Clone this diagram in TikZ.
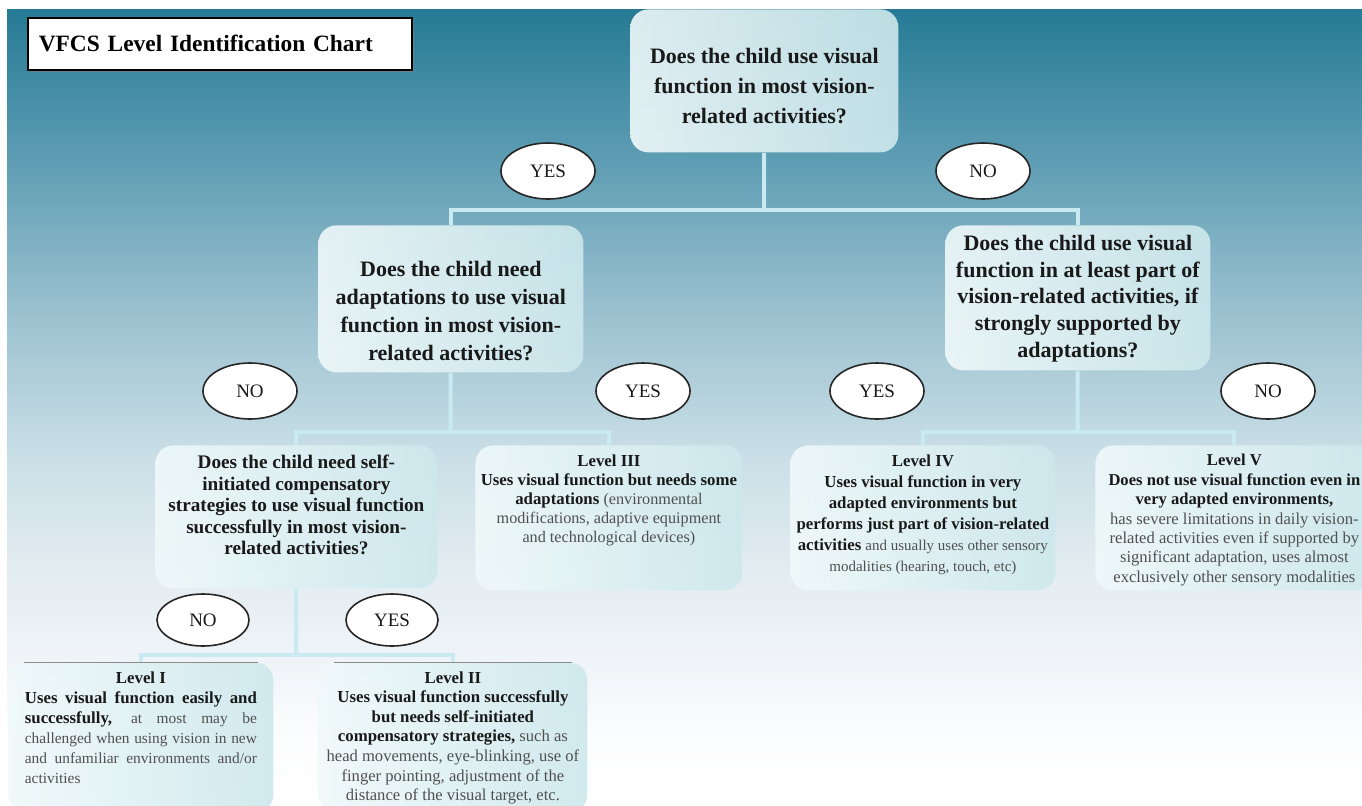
\documentclass[tikz,border=0pt]{standalone}
\usepackage{fontspec}
\setmainfont{Liberation Serif}
\usetikzlibrary{shapes.geometric,shadows}
\definecolor{ShadeA}{RGB}{38,122,148}
\definecolor{ShadeB}{RGB}{90,155,178}
\definecolor{ShadeC}{RGB}{150,190,205}
\definecolor{ShadeD}{RGB}{200,222,230}
\definecolor{ShadeE}{RGB}{225,235,240}
\definecolor{ShadeF}{RGB}{240,244,248}
\definecolor{ShadeG}{RGB}{252,253,254}
\definecolor{BoxLight}{RGB}{240,249,250}
\definecolor{BoxDark}{RGB}{205,232,236}
\definecolor{LinkBlue}{RGB}{200,234,240}
\definecolor{InkGray}{RGB}{80,80,80}
\pgfdeclareverticalshading{bgshade}{100bp}{color(0bp)=(white); color(25bp)=(white); color(29.1bp)=(ShadeG); color(34.1bp)=(ShadeF); color(40.4bp)=(ShadeE); color(47.3bp)=(ShadeD); color(56.7bp)=(ShadeC); color(66.1bp)=(ShadeB); color(75bp)=(ShadeA); color(100bp)=(ShadeA)}
\pgfdeclarelayer{back}
\pgfsetlayers{back,main}
% box body: height, width, top gap, text
\newcommand{\tbox}[4]{\parbox[c][#1][t]{#2}{\vspace*{#3}#4}}

\begin{document}
\begin{tikzpicture}[x=0.5pt, y=-0.5pt,
    qbox/.style={rounded corners=9pt, left color=BoxLight, right color=BoxDark, fill opacity=0.9, text opacity=1, inner sep=0pt, anchor=north west, text=black!90, font=\bfseries},
    ans/.style={ellipse, draw=black!85, line width=0.8pt, fill=white, minimum width=47pt, minimum height=28pt, inner sep=0pt, text=black!90, font=\fontsize{9.5}{11}\selectfont},
    link/.style={draw=LinkBlue, line width=2pt}]
    \useasboundingbox (0,0) rectangle (1362,805);

    \node[draw=black, line width=0.8pt, fill=white, drop shadow={shadow xshift=1pt, shadow yshift=-1pt, opacity=0.6}, anchor=north west, minimum width=192pt, minimum height=26pt, text width=181pt, align=left, inner xsep=5.5pt, font=\fontsize{11.7}{14}\selectfont\bfseries] (title) at (27,17) {VFCS Level Identification Chart};

    % questions
    \node[qbox, minimum width=134pt] (q1) at (630,9) {\tbox{71.5pt}{128pt}{19.5pt}{\centering\fontsize{11}{15}\selectfont Does the child use visual\\ function in most vision-\\ related activities?}};
    \node[qbox, minimum width=132.5pt] (q2) at (318,225) {\tbox{73.5pt}{128pt}{18pt}{\centering\fontsize{11}{14}\selectfont Does the child need\\ adaptations to use visual\\ function in most vision-\\ related activities?}};
    \node[qbox, minimum width=132.5pt] (q3) at (945,225) {\tbox{72.5pt}{128pt}{5pt}{\centering\fontsize{11}{13.3}\selectfont Does the child use visual\\ function in at least part of\\ vision-related activities, if\\ strongly supported by\\ adaptations?}};
    \node[qbox, minimum width=141pt] (q4) at (155,445) {\tbox{71.5pt}{134pt}{5pt}{\centering\fontsize{9.6}{10.7}\selectfont Does the child need self-\\ initiated compensatory\\ strategies to use visual function\\ successfully in most vision-\\ related activities?}};

    % levels
    \node[qbox, minimum width=133.5pt] (lv3) at (475,445) {\tbox{72.5pt}{131pt}{4.5pt}{\centering\fontsize{8.4}{9.6}\selectfont Level III\\ Uses visual function but needs some\\ adaptations {\mdseries\color{InkGray}\fontsize{8.1}{9.6}\selectfont (environmental\\ modifications, adaptive equipment\\ and technological devices)}}};
    \node[qbox, minimum width=132.5pt] (lv4) at (790,445) {\tbox{72.5pt}{130pt}{4.5pt}{\centering\fontsize{8.4}{10.5}\selectfont Level IV\\ Uses visual function in very\\ adapted environments but\\ performs just part of vision-related\\ activities {\mdseries\color{InkGray}\fontsize{7.5}{10.5}\selectfont and usually uses other sensory\\ modalities (hearing, touch, etc)}}};
    \node[qbox, minimum width=139pt] (lv5) at (1095,445) {\tbox{72.5pt}{132pt}{4.5pt}{\centering\fontsize{8.3}{9.7}\selectfont Level V\\ Does not use visual function even in\\ very adapted environments,\\ {\mdseries\color{InkGray}\fontsize{8.3}{9.7}\selectfont has severe limitations in daily vision-\\ related activities even if supported by\\ significant adaptation, uses almost\\ exclusively other sensory modalities}}};
    \node[qbox, minimum width=132.5pt] (lv1) at (8,662) {\tbox{75pt}{116pt}{4.5pt}{\fontsize{8.4}{10}\selectfont{\centering Level I\par}Uses visual function easily and\linebreak successfully, {\mdseries\color{InkGray}\fontsize{7.7}{10}\selectfont at most may be\linebreak challenged when using vision in new\linebreak and unfamiliar environments and/or\linebreak activities}}};
    \node[qbox, minimum width=134.5pt] (lv2) at (318,662) {\tbox{75pt}{132pt}{4.5pt}{\centering\fontsize{8.4}{9.8}\selectfont Level II\\ Uses visual function successfully\\ but needs self-initiated\\ compensatory strategies, {\mdseries\color{InkGray}\fontsize{8.3}{9.8}\selectfont such as\\ head movements, eye-blinking, use of\\ finger pointing, adjustment of the\\ distance of the visual target, etc.}}};
    \draw[black!45, line width=0.5pt] ([xshift=8pt]lv1.north west) -- ([xshift=-8pt]lv1.north east);
    \draw[black!45, line width=0.5pt] ([xshift=8pt]lv2.north west) -- ([xshift=-8pt]lv2.north east);

    % answers
    \node[ans] (yes1) at (548,171) {YES};
    \node[ans] (no1) at (983,171) {NO};
    \node[ans] (no2) at (250,391) {NO};
    \node[ans] (yes2) at (643,391) {YES};
    \node[ans] (yes3) at (877,391) {YES};
    \node[ans] (no3) at (1268,391) {NO};
    \node[ans, minimum width=46pt, minimum height=26pt] (no4) at (203,620) {NO};
    \node[ans, minimum width=46pt, minimum height=26pt] (yes4) at (392,620) {YES};

    \coordinate (j1) at (764,210);
    \coordinate (j2) at (450.5,432);
    \coordinate (j3) at (1077.5,432);
    \coordinate (j4) at (296,655);

    \begin{pgfonlayer}{back}
    \shade[shading=bgshade] (7,9) rectangle (1362,805);
    \draw[link] (q1) -- (j1);
    \draw[link] (j1) -| (q2);
    \draw[link] (j1) -| (q3);
    \draw[link] (q2) -- (j2);
    \draw[link] (j2) -| (q4);
    \draw[link] (j2) -| (lv3);
    \draw[link] (q3) -- (j3);
    \draw[link] (j3) -| (lv4);
    \draw[link] (j3) -| (lv5);
    \draw[link] (q4) -- (j4);
    \draw[link] (j4) -| (lv1);
    \draw[link] (j4) -| (lv2);
    \end{pgfonlayer}
\end{tikzpicture}
\end{document}
